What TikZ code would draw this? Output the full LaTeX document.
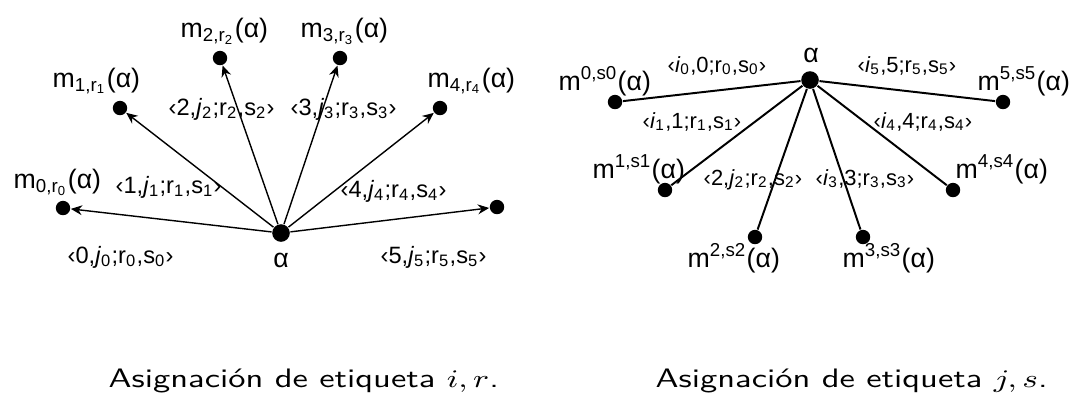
\documentclass[tikz,border=0pt]{standalone}
\usepackage{fontspec}
\setmainfont{Liberation Sans}
\usepackage{amsmath}
\usepackage{graphicx}
\usetikzlibrary{arrows.meta}

\newcommand{\piefig}[1]{\scalebox{1.29}[1]{#1}}

\begin{document}
\begin{tikzpicture}[x=0.0125cm, y=-0.0125cm, line width=0.5pt,
                vert/.style = {circle, fill, inner sep=0pt, minimum size=1.8mm},
                hub/.style = {vert, minimum size=2.2mm},
                mlab/.style = {anchor=base west, inner sep=0pt, font=\fontsize{9.5}{11}\selectfont},
                elab/.style = {anchor=base west, inner sep=0pt, font=\fontsize{8.4}{10}\selectfont},
                pie/.style = {anchor=base west, inner sep=0pt, font=\sffamily\fontsize{9.5}{11}\selectfont},
                arr/.style = {-{Stealth[length=4pt, width=3.5pt]}}]
                \useasboundingbox (0,0) rectangle (1082,394);
                % asignacion i,r
                \node[hub] (1) at (281,233) {};
                \node[vert] (2) at (63,208) {};
                \node[vert] (3) at (120,108) {};
                \node[vert] (4) at (220,58) {};
                \node[vert] (5) at (340,58) {};
                \node[vert] (6) at (440,108) {};
                \node[vert] (7) at (497,207) {};
                \node[mlab, anchor=base] (l1) at (281,267) {α};
                \node[mlab] (l2) at (13,188) {m\textsubscript{0,r\textsubscript{0}}(α)};
                \node[mlab] (l3) at (52,87) {m\textsubscript{1,r\textsubscript{1}}(α)};
                \node[mlab] (l4) at (180,37) {m\textsubscript{2,r\textsubscript{2}}(α)};
                \node[mlab] (l5) at (300,37) {m\textsubscript{3,r\textsubscript{3}}(α)};
                \node[mlab] (l6) at (427,87) {m\textsubscript{4,r\textsubscript{4}}(α)};
                \node[elab] (e2) at (67,263) {‹0,\textit{j}\textsubscript{0};r\textsubscript{0},s\textsubscript{0}›};
                \node[elab] (e3) at (115,193) {‹1,\textit{j}\textsubscript{1};r\textsubscript{1},s\textsubscript{1}›};
                \node[elab] (e4) at (168,115) {‹2,\textit{j}\textsubscript{2};r\textsubscript{2},s\textsubscript{2}›};
                \node[elab] (e5) at (290,115) {‹3,\textit{j}\textsubscript{3};r\textsubscript{3},s\textsubscript{3}›};
                \node[elab] (e6) at (340,197) {‹4,\textit{j}\textsubscript{4};r\textsubscript{4},s\textsubscript{4}›};
                \node[elab] (e7) at (380,263) {‹5,\textit{j}\textsubscript{5};r\textsubscript{5},s\textsubscript{5}›};
                \path[arr] (1) edge (2);
                \path[arr] (1) edge (3);
                \path[arr] (1) edge (4);
                \path[arr] (1) edge (5);
                \path[arr] (1) edge (6);
                \path[arr] (1) edge (7);
                % asignacion j,s
                \begin{scope}[elab/.append style = {font=\fontsize{7.8}{10}\selectfont}]
                \node[hub] (8) at (810,80) {};
                \node[vert] (9) at (615,102) {};
                \node[vert] (10) at (665,190) {};
                \node[vert] (11) at (755,237) {};
                \node[vert] (12) at (863,237) {};
                \node[vert] (13) at (953,190) {};
                \node[vert] (14) at (1003,102) {};
                \node[mlab, anchor=base] (l8) at (811,62) {α};
                \node[mlab] (l9) at (558,90) {m\textsuperscript{0,s0}(α)};
                \node[mlab] (l10) at (592,178) {m\textsuperscript{1,s1}(α)};
                \node[mlab] (l11) at (687,267) {m\textsuperscript{2,s2}(α)};
                \node[mlab] (l12) at (842,267) {m\textsuperscript{3,s3}(α)};
                \node[mlab] (l13) at (955,178) {m\textsuperscript{4,s4}(α)};
                \node[mlab] (l14) at (977,90) {m\textsuperscript{5,s5}(α)};
                \node[elab] (e9) at (667,72) {‹\textit{i}\textsubscript{0},0;r\textsubscript{0},s\textsubscript{0}›};
                \node[elab] (e10) at (642,128) {‹\textit{i}\textsubscript{1},1;r\textsubscript{1},s\textsubscript{1}›};
                \node[elab] (e11) at (703,185) {‹2,\textit{j}\textsubscript{2};r\textsubscript{2},s\textsubscript{2}›};
                \node[elab] (e12) at (815,185) {‹\textit{i}\textsubscript{3},3;r\textsubscript{3},s\textsubscript{3}›};
                \node[elab] (e13) at (873,128) {‹\textit{i}\textsubscript{4},4;r\textsubscript{4},s\textsubscript{4}›};
                \node[elab] (e14) at (857,72) {‹\textit{i}\textsubscript{5},5;r\textsubscript{5},s\textsubscript{5}›};
                \path[line width=0.7pt] (8) edge (9);
                \path[line width=0.7pt] (8) edge (10);
                \path[line width=0.7pt] (8) edge (11);
                \path[line width=0.7pt] (8) edge (12);
                \path[line width=0.7pt] (8) edge (13);
                \path[line width=0.7pt] (8) edge (14);
                \end{scope}
                % pies
                \node[pie] (c1) at (108,387) {\piefig{Asignación de etiqueta $i, r$.}};
                \node[pie] (c2) at (655,387) {\piefig{Asignación de etiqueta $j, s$.}};
            \end{tikzpicture}
\end{document}
